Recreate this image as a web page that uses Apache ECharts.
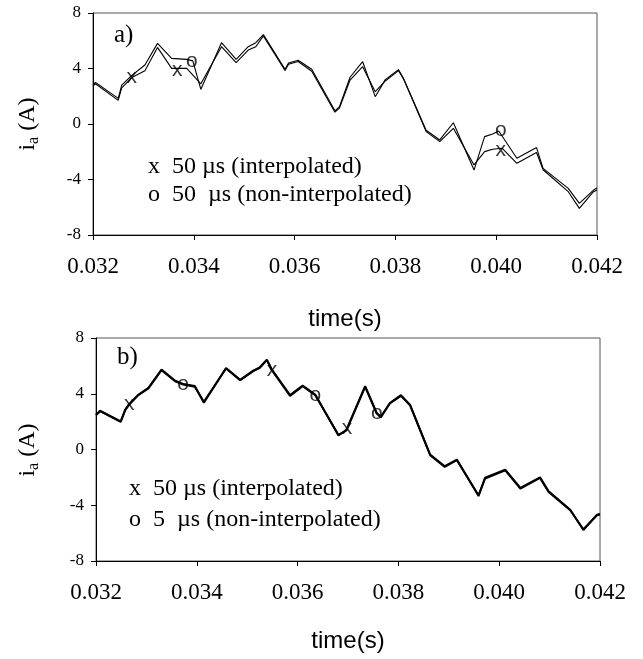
<!DOCTYPE html>
<html>
<head>
<meta charset="utf-8">
<title>ia current</title>
<script src="https://cdn.jsdelivr.net/npm/echarts@6/dist/echarts.min.js"></script>
<style>
  html, body { margin: 0; padding: 0; background: #fff; }
  #chart { width: 643px; height: 659px; }
</style>
</head>
<body>
<div id="chart"></div>
<script>
// x ticks (s) and y ticks (A)
const timeTicks = [0.032, 0.034, 0.036, 0.038, 0.040, 0.042]
const ampTicks = [-8, -4, 0, 4, 8]

// a) 50 us interpolated
const topInterp = [
  [0.03200, 2.75], [0.03205, 2.9], [0.03250, 1.7], [0.03257, 2.6], [0.03277, 3.35],
  [0.03303, 3.84], [0.03328, 5.52], [0.03356, 4.01], [0.03386, 4.01], [0.03414, 2.9],
  [0.03455, 5.57], [0.03484, 4.42], [0.03508, 5.33], [0.03523, 5.57], [0.03538, 6.35],
  [0.03581, 3.85], [0.03588, 4.3], [0.03607, 4.5], [0.03634, 3.8], [0.03680, 0.85],
  [0.03689, 1.15], [0.03710, 3.17], [0.03735, 4.13], [0.03760, 2.33], [0.03780, 3.1],
  [0.03806, 3.85], [0.03816, 3.25], [0.03861, -0.55], [0.03888, -1.27], [0.03915, -0.31],
  [0.03956, -2.95], [0.03977, -1.99], [0.03993, -1.82], [0.04012, -1.75], [0.04041, -2.83],
  [0.04080, -2.05], [0.04093, -3.3], [0.04143, -4.88], [0.04165, -6.08], [0.04193, -4.88],
  [0.04200, -4.75]
]
// a) 50 us non-interpolated
const topNonInterp = [
  [0.03200, 2.85], [0.03205, 3.0], [0.03250, 1.85], [0.03257, 2.8], [0.03277, 3.5],
  [0.03303, 4.25], [0.03328, 5.81], [0.03356, 4.73], [0.03386, 4.66], [0.03398, 4.55],
  [0.03414, 2.5], [0.03455, 5.86], [0.03484, 4.66], [0.03508, 5.57], [0.03523, 5.86],
  [0.03538, 6.45], [0.03581, 3.95], [0.03588, 4.4], [0.03607, 4.6], [0.03634, 3.95],
  [0.03680, 0.95], [0.03689, 1.25], [0.03710, 3.37], [0.03735, 4.49], [0.03760, 1.97],
  [0.03780, 3.2], [0.03806, 3.92], [0.03816, 3.3], [0.03861, -0.45], [0.03888, -1.15],
  [0.03915, 0.09], [0.03956, -3.32], [0.03977, -0.91], [0.03993, -0.72], [0.04005, -0.5],
  [0.04041, -2.47], [0.04080, -1.7], [0.04093, -3.2], [0.04143, -4.64], [0.04165, -5.72],
  [0.04193, -4.76], [0.04200, -4.62]
]
const topMarksX = [[0.03277, 3.37], [0.03367, 3.89], [0.04009, -1.87]]
const topMarksO = [[0.03396, 4.54], [0.04009, -0.48]]

// b) 50 us interpolated
const botInterp = [
  [0.03200, 2.46], [0.03208, 2.75], [0.03249, 1.98], [0.03258, 2.82], [0.03266, 3.23],
  [0.03284, 3.9], [0.03304, 4.38], [0.03330, 5.69], [0.03357, 4.9], [0.03373, 4.66],
  [0.03396, 4.5], [0.03414, 3.42], [0.03458, 5.81], [0.03486, 4.97], [0.03512, 5.62],
  [0.03525, 5.86], [0.03539, 6.41], [0.03549, 5.69], [0.03585, 3.85], [0.03610, 4.54],
  [0.03635, 3.9], [0.03681, 1.05], [0.03697, 1.38], [0.03734, 4.5], [0.03757, 2.58],
  [0.03765, 2.34], [0.03783, 3.3], [0.03805, 3.85], [0.03823, 3.18], [0.03863, -0.41],
  [0.03892, -1.25], [0.03916, -0.77], [0.03959, -3.28], [0.03972, -2.08], [0.04012, -1.49],
  [0.04042, -2.8], [0.04081, -2.04], [0.04098, -3.04], [0.04141, -4.36], [0.04167, -5.72],
  [0.04194, -4.72], [0.04200, -4.67]
]
// b) 5 us non-interpolated
const botNonInterp = [
  [0.03200, 2.5], [0.03208, 2.78], [0.03249, 2.02], [0.03258, 2.86], [0.03266, 3.27],
  [0.03284, 3.93], [0.03304, 4.42], [0.03330, 5.74], [0.03357, 4.94], [0.03373, 4.7],
  [0.03396, 4.55], [0.03414, 3.36], [0.03458, 5.85], [0.03486, 5.0], [0.03512, 5.66],
  [0.03525, 5.9], [0.03539, 6.45], [0.03549, 5.74], [0.03585, 3.9], [0.03610, 4.58],
  [0.03635, 3.94], [0.03681, 1.0], [0.03697, 1.42], [0.03734, 4.55], [0.03757, 2.62],
  [0.03765, 2.3], [0.03783, 3.34], [0.03805, 3.9], [0.03823, 3.22], [0.03863, -0.37],
  [0.03892, -1.2], [0.03916, -0.72], [0.03959, -3.34], [0.03972, -2.02], [0.04012, -1.45],
  [0.04042, -2.76], [0.04081, -2.0], [0.04098, -3.0], [0.04141, -4.32], [0.04167, -5.78],
  [0.04194, -4.68], [0.04200, -4.63]
]
const botMarksX = [[0.03266, 3.23], [0.03549, 5.69], [0.03698, 1.55]]
const botMarksO = [[0.03373, 4.66], [0.03635, 3.9], [0.03757, 2.58]]

const serif = 'Liberation Serif'
const sans = 'Liberation Sans'

function xAxisFor(gridIndex) {
  return {
    type: 'value',
    gridIndex: gridIndex,
    min: timeTicks[0],
    max: timeTicks[timeTicks.length - 1],
    interval: 0.002,
    name: 'time(s)',
    nameLocation: 'middle',
    nameGap: gridIndex === 0 ? 72 : 68,
    nameTextStyle: { fontFamily: sans, fontSize: 24, color: '#000' },
    axisLine: { onZero: false, lineStyle: { color: '#000', width: 1 } },
    axisTick: { length: 5, lineStyle: { color: '#000' } },
    axisLabel: {
      fontFamily: serif, fontSize: 23, color: '#000', margin: 20,
      formatter: v => v.toFixed(3)
    },
    splitLine: { show: false }
  }
}

function yAxisFor(gridIndex) {
  return {
    type: 'value',
    gridIndex: gridIndex,
    min: ampTicks[0],
    max: ampTicks[ampTicks.length - 1],
    interval: 4,
    axisLine: { show: true, onZero: false, lineStyle: { color: '#000', width: 1 } },
    axisTick: { show: true, length: 5, lineStyle: { color: '#000' } },
    axisLabel: { fontFamily: serif, fontSize: 17, color: '#000', margin: 12 },
    splitLine: { show: false }
  }
}

function lineSeries(idx, data, width) {
  return {
    type: 'line',
    xAxisIndex: idx,
    yAxisIndex: idx,
    data: data,
    showSymbol: false,
    lineStyle: { color: '#000', width: width },
    z: 2
  }
}

// the x / o glyphs are drawn as labels on invisible points
function markSeries(idx, data, glyph) {
  return {
    type: 'scatter',
    xAxisIndex: idx,
    yAxisIndex: idx,
    data: data,
    symbolSize: 1,
    itemStyle: { color: 'rgba(0,0,0,0)' },
    label: {
      show: true,
      position: 'inside',
      formatter: glyph,
      fontFamily: sans,
      fontSize: 21,
      color: '#000'
    },
    z: 3
  }
}

function yTitle(x, y) {
  return {
    type: 'text',
    x: x,
    y: y,
    rotation: Math.PI / 2,
    style: {
      text: '{i|i}{s|a}{i| (A)}',
      align: 'center',
      verticalAlign: 'middle',
      fill: '#000',
      rich: {
        i: { fontFamily: serif, fontSize: 24, lineHeight: 28, color: '#000' },
        s: { fontFamily: serif, fontSize: 16, lineHeight: 16, verticalAlign: 'bottom', color: '#000' }
      }
    }
  }
}

function note(x, y, text, size) {
  return {
    type: 'text',
    x: x,
    y: y,
    style: {
      text: text,
      fontFamily: serif,
      fontSize: size,
      fill: '#000',
      align: 'left',
      verticalAlign: 'middle'
    }
  }
}

const chart = echarts.init(document.getElementById('chart'))
chart.setOption({
  animation: false,
  backgroundColor: '#fff',
  grid: [
    { left: 93, right: 46, top: 13, height: 222, show: true, borderColor: '#555', borderWidth: 1 },
    { left: 96, right: 43, top: 338, height: 223, show: true, borderColor: '#555', borderWidth: 1 }
  ],
  xAxis: [xAxisFor(0), xAxisFor(1)],
  yAxis: [yAxisFor(0), yAxisFor(1)],
  series: [
    lineSeries(0, topInterp, 1.1),
    lineSeries(0, topNonInterp, 1.1),
    markSeries(0, topMarksX, 'x'),
    markSeries(0, topMarksO, 'o'),
    lineSeries(1, botInterp, 2),
    lineSeries(1, botNonInterp, 2),
    markSeries(1, botMarksX, 'x'),
    markSeries(1, botMarksO, 'o')
  ],
  graphic: [
    yTitle(28, 124),
    yTitle(28, 450),
    note(114, 35, 'a)', 25),
    note(117, 357, 'b)', 25),
    note(148, 167, 'x  50 µs (interpolated)', 24),
    note(148, 195, 'o  50  µs (non-interpolated)', 24),
    note(129, 489, 'x  50 µs (interpolated)', 24),
    note(129, 520, 'o  5  µs (non-interpolated)', 24)
  ]
})
</script>
</body>
</html>
